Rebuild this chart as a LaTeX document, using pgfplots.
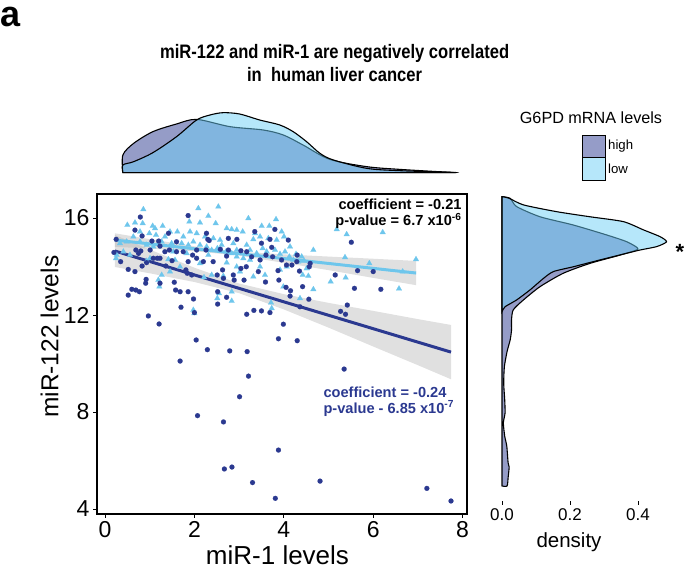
\documentclass[border=0pt]{standalone}
\usepackage{pgfplots}
\pgfplotsset{compat=1.18}
\usepackage{fontspec}
\setmainfont{Liberation Sans}
\definecolor{hiblue}{HTML}{2B3990}
\definecolor{loblue}{HTML}{6DCFF6}
\definecolor{ptlight}{HTML}{6EC6EC}
\definecolor{keyhigh}{HTML}{959CC8}
\definecolor{keylow}{HTML}{B6E7FA}
\newcommand{\fs}[1]{\fontsize{#1}{#1}\selectfont}
\begin{document}
\begin{tikzpicture}[x=1pt,y=1pt]
\path[use as bounding box] (0,0) rectangle (685,569);
% ---------- main scatter ----------
\begin{axis}[at={(97pt,55pt)},anchor=south west,scale only axis,
  width=370pt,height=320pt,
  xmin=-0.179,xmax=8.098,ymin=3.794,ymax=16.99,
  xtick={0,2,4,6,8},ytick={4,8,12,16},
  xtick pos=bottom,ytick pos=left,tick align=outside,
  major tick length=4pt,
  axis line style={line width=1.2pt},
  tick style={black,line width=0.9pt},
  /pgf/number format/assume math mode=true,
  tick label style={font=\fs{23}},
  clip=true]
\addplot[only marks,mark=triangle*,mark size=3.3pt,color=ptlight,mark options={line width=0.1pt}] coordinates {
(0.858,16.357)(0.500,15.711)(0.671,15.807)(0.843,15.780)(1.066,15.670)(1.290,15.670)
(1.454,15.436)(1.618,15.436)(1.887,15.849)(2.088,16.399)(2.125,15.807)(2.312,16.082)
(2.476,15.780)(2.535,16.467)(2.722,15.574)(2.834,15.533)(2.946,15.505)(3.080,15.436)
(3.207,15.986)(3.356,15.368)(3.505,15.670)(3.676,15.670)(3.826,15.945)(3.952,15.436)
(4.004,15.230)(4.139,14.818)(4.273,14.515)(4.400,14.405)(4.661,14.680)(5.183,15.533)
(5.406,15.326)(6.212,15.409)(5.369,14.378)(5.913,14.131)(6.659,13.790)(6.957,14.296)
(5.048,13.375)(5.384,13.539)(6.577,13.086)(4.661,13.058)(4.549,13.608)(4.422,13.649)
(4.362,12.687)(3.990,13.168)(3.729,12.275)(3.714,12.509)(2.834,12.577)(2.513,12.687)
(2.550,12.893)(2.834,12.962)(2.647,13.608)(2.215,13.553)(1.976,12.206)(1.999,12.069)
(1.216,13.168)(1.268,13.649)(1.454,13.790)(1.193,13.443)(1.678,13.990)(1.566,14.268)
(1.417,14.296)(1.007,14.337)(0.932,14.227)(0.261,14.474)(0.246,14.337)(0.336,14.955)
(0.485,15.024)(0.634,15.230)(0.783,15.024)(0.932,14.887)(1.081,14.818)(1.268,15.024)
(1.491,14.955)(1.715,14.955)(1.864,14.887)(1.976,15.024)(2.125,14.887)(2.274,14.818)
(2.386,14.680)(2.513,14.749)(2.610,14.887)(2.707,14.612)(2.834,14.543)(2.946,14.405)
(3.095,14.337)(3.244,14.268)(3.393,14.543)(3.527,14.749)(3.617,14.612)(3.803,14.680)
(3.915,14.515)(4.027,14.612)(4.124,14.405)(4.213,14.268)(4.325,14.199)(4.452,14.227)
(4.511,13.922)(1.752,15.230)(1.902,15.436)(2.051,15.368)(2.237,15.230)(2.424,15.162)
(2.573,15.093)(2.871,14.955)(3.169,14.887)(3.318,15.120)(3.468,15.230)(3.654,15.162)
(3.840,15.093)(0.783,15.436)(0.992,15.368)(1.141,15.299)(1.342,15.230)(3.020,13.790)
(3.318,13.581)(3.579,13.649)(3.915,13.863)(4.064,13.990)(2.386,13.649)(2.125,14.131)
(1.529,14.612)(1.119,15.574)(0.410,14.612)(0.559,14.474)(1.827,14.543)(2.722,14.158)
(2.946,13.990)(3.468,13.990)(3.244,14.680)(2.946,14.680)(2.312,14.474)
};
\addplot[only marks,mark=*,mark size=2.5pt,color=hiblue,mark options={line width=0.1pt}] coordinates {
(7.20,4.85)(7.74,4.33)(4.81,5.15)(3.81,4.44)(3.30,5.09)(2.67,5.65)(2.84,5.73)(3.88,6.43)
(2.07,7.85)(2.65,7.59)(3.01,8.63)(3.21,9.48)(5.35,9.77)(1.68,10.10)(2.29,10.57)(2.79,10.52)
(3.18,10.49)(2.04,10.97)(3.88,11.02)(4.30,10.94)(1.21,11.63)(0.97,11.96)(3.99,11.62)
(1.70,12.32)(2.00,12.10)(3.17,12.03)(3.33,12.19)(3.50,12.17)(3.69,12.10)(5.27,12.15)
(5.38,12.03)(5.42,12.41)(4.36,12.34)(4.56,12.65)(0.52,12.82)(0.60,13.06)(0.69,13.03)
(0.77,12.96)(0.91,13.31)(1.23,13.31)(0.92,13.47)(1.55,13.35)(1.58,13.03)(1.68,12.96)
(1.86,12.96)(1.98,12.66)(2.52,12.45)(2.52,12.96)(2.72,12.73)(3.11,13.44)(3.59,13.36)
(3.89,13.44)(4.05,13.14)(4.15,13.00)(4.14,12.78)(4.42,13.17)(5.58,13.10)(6.17,13.06)
(5.15,13.65)(5.65,13.83)(6.00,13.79)(5.51,15.00)(4.35,13.81)(4.57,13.99)(4.10,15.09)
(3.80,15.53)(3.35,15.44)(2.76,15.16)(2.30,15.12)(1.86,16.10)(0.79,16.04)(0.67,15.50)
(0.83,15.26)(0.25,15.12)(0.20,14.58)(0.35,14.20)(0.52,13.88)(0.67,13.79)(0.80,14.64)
(0.83,14.02)(1.08,14.34)(1.17,14.34)(1.01,14.68)(1.05,15.05)(1.20,15.05)(1.42,15.37)
(1.44,14.68)(1.36,14.02)(1.50,14.24)(1.60,14.61)(1.75,14.61)(1.81,13.86)(1.84,13.72)
(1.94,13.65)(2.05,14.34)(2.20,14.20)(2.26,14.68)(2.33,15.07)(2.42,14.20)(2.51,13.65)
(2.58,14.71)(2.63,13.86)(2.72,14.43)(2.87,13.65)(2.89,13.44)(3.04,13.92)(3.16,13.99)
(3.17,14.61)(3.28,14.40)(3.43,13.79)(3.47,14.27)(3.60,14.47)(3.73,14.79)(3.75,14.40)
(3.87,13.83)(3.69,15.12)(3.50,14.96)(3.04,14.65)(2.95,15.12)(2.76,14.68)(2.05,14.68)
(1.60,15.02)(1.23,14.84)(0.93,14.16)(0.69,14.68)(0.75,14.54)(4.06,14.06)(3.95,14.27)
(4.29,14.20)(4.18,14.06)(4.59,14.13)(4.30,14.47)(1.86,14.20)(1.96,14.47)(2.27,15.37)
(2.65,13.51)(1.23,14.34)(1.34,14.61)
};
% confidence bands
\addplot[fill=gray!60!white,fill opacity=0.4,draw=none] coordinates {
(0.22,15.37)(1,15.13)(2,14.83)(3,14.61)(4,14.50)(5,14.41)(6,14.32)(6.96,14.23)
(6.96,13.23)(6,13.53)(5,13.85)(4,14.15)(3,14.45)(2,14.63)(1,14.74)(0.22,14.81)} -- cycle;
\addplot[fill=gray!60!white,fill opacity=0.4,draw=none] coordinates {
(0.22,15.30)(1,14.70)(2,13.95)(3,13.30)(4,12.86)(5,12.50)(6,12.17)(7,11.83)(7.74,11.59)
(7.74,9.35)(7,9.93)(6,10.70)(5,11.48)(4,12.23)(3,12.90)(2,13.36)(1,13.72)(0.22,13.98)} -- cycle;
\addplot[ptlight,line width=3pt] coordinates {(0.22,15.09)(6.96,13.73)};
\addplot[hiblue,line width=3pt] coordinates {(0.22,14.64)(7.74,10.47)};
\end{axis}
% ---------- top marginal density ----------
\begin{axis}[at={(97pt,396.3pt)},anchor=south west,scale only axis,
  width=370pt,height=62pt,xmin=-0.179,xmax=8.098,ymin=0,ymax=62,hide axis,clip=false]
\addplot[smooth,tension=0.5,fill=hiblue,fill opacity=0.5,draw=black,line width=1.1pt] coordinates {
(0.40,0)(0.40,17.7)(0.64,29.3)(1.07,41)(1.60,48.7)(2.05,53.3)(2.80,46)(3.54,42.7)(3.99,37.7)
(4.43,27.7)(5.03,13.3)(5.86,6)(6.60,3.3)(7.35,1.3)(7.78,0.3)(7.78,0)} -- cycle;
\addplot[smooth,tension=0.5,fill=loblue,fill opacity=0.5,draw=black,line width=1.1pt] coordinates {
(0.40,0)(0.40,7.7)(0.64,11)(1.07,20)(1.60,36)(2.05,52.7)(2.35,57.7)(2.64,60)(3.01,58.7)
(3.46,52.7)(3.91,47.7)(4.21,41)(4.51,31)(4.81,19.3)(5.11,12.7)(5.86,4.3)(6.60,2)(7.78,0.3)(7.78,0)} -- cycle;
\end{axis}
% ---------- right marginal density ----------
\begin{axis}[at={(502pt,68pt)},anchor=south west,scale only axis,
  width=170pt,height=307.25pt,xmin=0,xmax=0.5,ymin=4.33,ymax=17,
  axis x line*=bottom,axis y line=none,axis line style={draw=none},
  xtick={0,0.2,0.4},xticklabels={0.0,0.2,0.4},tick align=outside,
  major tick length=4pt,tick style={black,line width=0.8pt},
  xticklabel style={font=\fs{17}},
  clip=false]
\addplot[smooth,tension=0.4,fill=hiblue,fill opacity=0.5,draw=black,line width=1.1pt] coordinates {
(0,16.88)(0.024,16.81)(0.043,16.47)(0.112,16.05)(0.21,15.71)(0.308,15.30)(0.367,15.02)(0.40,14.72)
(0.347,14.47)(0.259,14.13)(0.18,13.72)(0.112,13.17)(0.063,12.62)(0.033,12.21)(0.028,11.79)
(0.028,11.38)(0.024,10.97)(0.015,10.5)(0.007,9.87)(0.005,9.18)(0.008,8.5)(0.009,7.96)(0.004,7.55)
(0.008,7.0)(0.014,6.6)(0.018,5.9)(0.021,5.73)(0.018,5.3)(0.015,4.95)(0,4.95)} -- cycle;
\addplot[smooth,tension=0.4,fill=loblue,fill opacity=0.5,draw=black,line width=1.1pt] coordinates {
(0,16.88)(0.02,16.82)(0.063,16.54)(0.161,16.26)(0.259,16.05)(0.357,15.85)(0.416,15.51)(0.465,15.23)
(0.484,15.02)(0.455,14.82)(0.40,14.66)(0.288,14.27)(0.21,13.99)(0.151,13.79)(0.122,13.51)
(0.082,13.03)(0.043,12.62)(0.009,12.34)(0,12.14)} -- cycle;
\end{axis}
% ---------- texts ----------
\node[anchor=base west,inner sep=0,font=\fs{36}\bfseries] at (0,542) {a};
\node[anchor=base,inner sep=0,font=\fs{19.5}\bfseries] at (334.6,510) {\scalebox{0.85}[1]{miR-122 and miR-1 are negatively correlated}};
\node[anchor=base,inner sep=0,font=\fs{19.5}\bfseries] at (334.6,487) {\scalebox{0.85}[1]{in\ \ human liver cancer}};
\node[inner sep=0,font=\fs{26}] at (277.5,14) {miR-1 levels};
\node[inner sep=0,font=\fs{24.5},rotate=90] at (49.5,232.3) {miR-122 levels};
\node[inner sep=0,font=\fs{20.5}] at (569,27) {density};
\node[inner sep=0,font={\fontsize{14.6}{16}\selectfont\bfseries},anchor=base east,align=right] at (461.7,343.5)
  {coefficient = -0.21\\p-value = 6.7 x10\textsuperscript{-6}};
\node[inner sep=0,font={\fontsize{14.6}{16}\selectfont\bfseries},anchor=base west,align=left,text=hiblue] at (323.3,155.8)
  {coefficient = -0.24\\p-value - 6.85 x10\textsuperscript{-7}};
\node[font=\fs{22}\bfseries] at (680,317) {*};
% legend
\node[font=\fs{16.2}] at (591,451) {G6PD mRNA levels};
\draw[fill=keyhigh,line width=0.9pt] (582,412) rectangle (605,434);
\draw[fill=keylow,line width=0.9pt] (582,389) rectangle (605,412);
\node[font=\fs{13.2},anchor=west,inner sep=0] at (608,423) {high};
\node[font=\fs{13.2},anchor=west,inner sep=0] at (608,400.5) {low};
\end{tikzpicture}
\end{document}
